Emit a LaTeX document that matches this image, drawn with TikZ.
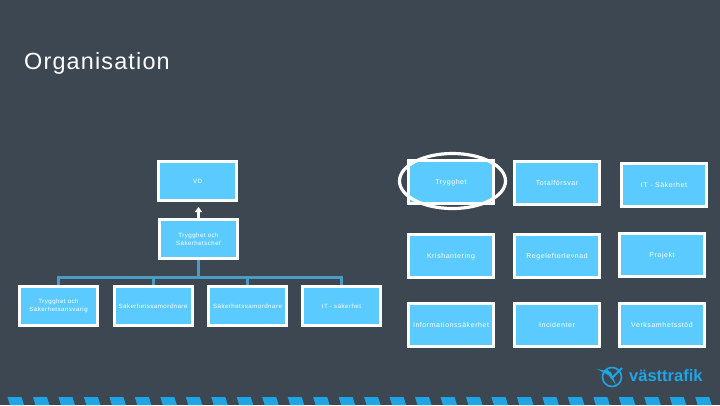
\documentclass[tikz,border=0pt]{standalone}
\usepackage{fontspec}
\usetikzlibrary{arrows.meta}
\setmainfont{Liberation Sans}
\newfontfamily\spaced[LetterSpace=8]{Liberation Sans}
\newfontfamily\titlef[LetterSpace=5]{Liberation Sans}
\definecolor{bgc}{HTML}{3D4751}
\definecolor{boxc}{HTML}{5BCBFF}
\definecolor{linec}{HTML}{4A9CC2}
\definecolor{logoc}{HTML}{1FA5E6}
\tikzset{
  card/.style={draw=white,fill=boxc,line width=3pt,inner sep=0pt,align=center,text=white,anchor=center},
  small/.style={card,minimum width=78pt,minimum height=39pt,font=\spaced\fontsize{6.1}{8.2}\selectfont},
  large/.style={card,minimum width=85pt,minimum height=43pt,text height=5pt,text depth=0pt,font=\spaced\fontsize{7}{9}\selectfont},
  tree/.style={draw=linec,line width=3pt},
}
\begin{document}
\begin{tikzpicture}[x=1pt,y=-1pt]
\fill[bgc] (0,0) rectangle (720,405);
\useasboundingbox (0,0) rectangle (720,405);
\node[anchor=west,text=white,inner sep=0pt,font=\titlef\fontsize{23.4}{26}\selectfont] (title) at (24,63) {Organisation};
% left chart
\node[small] (vd) at (197.5,181) {VD};
\node[small] (chef) at (198.5,239) {Trygghet och\\Säkerhetschef};
\node[small] (a) at (58.5,306) {Trygghet och\\Säkerhetsansvarig};
\node[small] (b) at (153,306) {Säkerhetssamordnare};
\node[small] (c) at (247.5,306) {Säkerhetssamordnare};
\node[small] (d) at (341.5,306) {IT - säkerhet};
\coordinate (bar) at (198.5,277.5);
\draw[tree] (chef.south) -- (bar);
\foreach \n in {a,b,c,d}{
  \draw[tree] (bar) -| (\n.north);
}
\draw[white,line width=3pt,-{Triangle[width=7pt,length=5pt]},shorten >=5pt] (chef.north) -- (chef.north |- vd.south);
% right grid
\node[large] (r1) at (451,182) {Trygghet};
\node[large] (r2) at (557,183) {Totalförsvar};
\node[large] (r3) at (664,185) {IT - Säkerhet};
\node[large] (r4) at (451,256) {Krishantering};
\node[large] (r5) at (557,256) {Regelefterlevnad};
\node[large] (r6) at (662,255) {Projekt};
\node[large] (r7) at (451,325) {Informationssäkerhet};
\node[large] (r8) at (557,325) {Incidenter};
\node[large] (r9) at (662,325) {Verksamhetsstöd};
\draw[white,line width=3.2pt] (452.5,181) ellipse [x radius=53, y radius=27.5];
% stripes
\foreach \k in {0,...,28}{
  \fill[logoc] ({7.5+25.47*\k},397) -- ({21.5+25.47*\k},397) -- ({24+25.47*\k},405) -- ({10+25.47*\k},405) -- cycle;
}
% logo
\draw[logoc,line width=1.6pt] (612,377) circle [radius=9.5];
\fill[logoc] (597,369) -- (611,372) -- (616,385) -- (609,375.5) -- cycle;
\draw[logoc,line width=2pt,line join=round] (607,370) -- (612,378) -- (622,368);
\node[anchor=west,text=logoc,inner sep=0pt,font=\bfseries\fontsize{16.5}{18}\selectfont] (logo) at (629,376) {västtrafik};
\end{tikzpicture}
\end{document}
